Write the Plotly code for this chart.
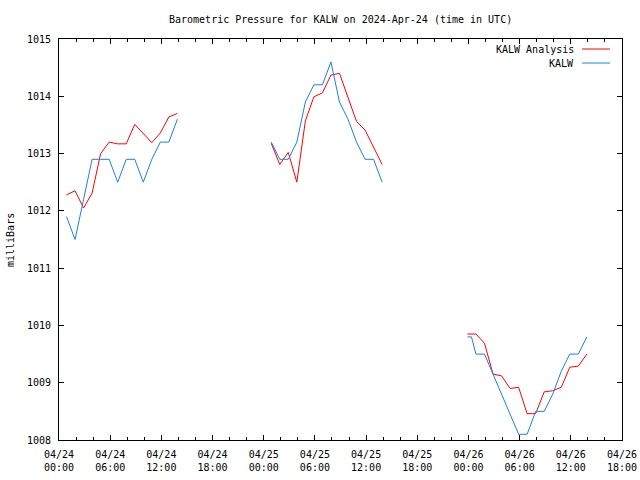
import datetime as dt
import plotly.graph_objects as go

# ---- data (hours after 2024-04-24 00:00 UTC) ----
seg1_hours = [0.88, 1.88, 2.88, 3.88, 4.88, 5.88, 6.88, 7.88, 8.88, 9.88, 10.88, 11.88, 12.88, 13.88]
seg1_obs = [1011.9, 1011.5, 1012.2, 1012.9, 1012.9, 1012.9, 1012.5, 1012.9, 1012.9, 1012.5, 1012.9, 1013.2, 1013.2, 1013.6]
seg1_ana = [1012.28, 1012.35, 1012.05, 1012.31, 1013.0, 1013.2, 1013.17, 1013.17, 1013.51, 1013.35, 1013.19, 1013.36, 1013.64, 1013.7]

seg2_hours = [24.88, 25.88, 26.88, 27.88, 28.88, 29.88, 30.88, 31.88, 32.88, 33.88, 34.88, 35.88, 36.88, 37.88]
seg2_obs = [1013.2, 1012.9, 1012.9, 1013.2, 1013.9, 1014.2, 1014.2, 1014.6, 1013.9, 1013.6, 1013.2, 1012.9, 1012.9, 1012.5]
seg2_ana = [1013.18, 1012.81, 1013.02, 1012.5, 1013.57, 1013.99, 1014.06, 1014.37, 1014.4, 1013.99, 1013.56, 1013.41, 1013.12, 1012.81]

seg3_obs_hours = [47.88, 48.35, 48.88, 49.88, 50.88, 51.88, 52.88, 53.88, 54.88, 55.88, 56.88, 57.88, 58.88, 59.88, 60.88, 61.88]
seg3_obs = [1009.8, 1009.8, 1009.5, 1009.5, 1009.15, 1008.8, 1008.44, 1008.1, 1008.1, 1008.5, 1008.5, 1008.8, 1009.2, 1009.5, 1009.5, 1009.8]
seg3_ana_hours = [47.88, 48.88, 49.88, 50.88, 51.88, 52.88, 53.88, 54.88, 55.88, 56.88, 57.88, 58.88, 59.88, 60.88, 61.88]
seg3_ana = [1009.85, 1009.85, 1009.69, 1009.15, 1009.12, 1008.9, 1008.92, 1008.46, 1008.46, 1008.84, 1008.86, 1008.92, 1009.27, 1009.29, 1009.5]

y_ticks = [1008, 1009, 1010, 1011, 1012, 1013, 1014, 1015]

start = dt.datetime(2024, 4, 24, 0, 0)


def to_time(hours):
    return [start + dt.timedelta(hours=h) for h in hours]


def join(segments):
    xs, ys = [], []
    for hours, vals in segments:
        if xs:
            xs.append(xs[-1] + dt.timedelta(minutes=1))
            ys.append(None)
        xs.extend(to_time(hours))
        ys.extend(vals)
    return xs, ys


ana_x, ana_y = join([(seg1_hours, seg1_ana), (seg2_hours, seg2_ana), (seg3_ana_hours, seg3_ana)])
obs_x, obs_y = join([(seg1_hours, seg1_obs), (seg2_hours, seg2_obs), (seg3_obs_hours, seg3_obs)])

RED = "#ff0000"
BLUE = "#1a80e6"
FONT = "DejaVu Sans Mono"
FS = 10

fig = go.Figure()
fig.add_trace(go.Scatter(x=ana_x, y=ana_y, mode="lines", name="KALW Analysis",
                         line=dict(color=RED, width=1), connectgaps=False))
fig.add_trace(go.Scatter(x=obs_x, y=obs_y, mode="lines", name="KALW",
                         line=dict(color=BLUE, width=1), connectgaps=False))

W, H = 640, 480
L, R, T, B = 59, 18, 39, 40
PW, PH = W - L - R, H - T - B

fig.update_layout(
    width=W, height=H,
    margin=dict(l=L, r=R, t=T, b=B, autoexpand=False),
    paper_bgcolor="white", plot_bgcolor="white",
    font=dict(family=FONT, size=FS, color="black"),
    showlegend=False,
)

fig.update_xaxes(
    type="date",
    range=[start, start + dt.timedelta(hours=66)],
    tickmode="linear", tick0=start, dtick=6 * 3600 * 1000,
    tickformat="%m/%d<br>%H:%M",
    ticks="inside", ticklen=5, tickcolor="black",
    minor=dict(dtick=2 * 3600 * 1000, ticks="inside", ticklen=3, tickcolor="black", showgrid=False),
    showline=True, linecolor="black", linewidth=1, mirror="ticks",
    showgrid=False, zeroline=False, automargin=False,
    ticklabelstandoff=5,
    tickfont=dict(family=FONT, size=FS),
)
fig.update_yaxes(
    range=[1008, 1015],
    tickmode="array", tickvals=y_ticks, ticktext=[str(v) for v in y_ticks],
    ticks="inside", ticklen=5, tickcolor="black",
    showline=True, linecolor="black", linewidth=1, mirror="ticks",
    showgrid=False, zeroline=False, automargin=False,
    ticklabelstandoff=5,
    tickfont=dict(family=FONT, size=FS),
)

# title
fig.add_annotation(text="Barometric Pressure for KALW on 2024-Apr-24 (time in UTC)",
                   xref="paper", yref="paper", x=0.5, y=1, yshift=T - 19,
                   xanchor="center", yanchor="middle", showarrow=False,
                   font=dict(family=FONT, size=FS))
# y-axis label
fig.add_annotation(text="milliBars", xref="paper", yref="paper",
                   x=0, xshift=10 - L, y=(H - B - 240) / PH,
                   xanchor="center", yanchor="middle", textangle=-90, showarrow=False,
                   font=dict(family=FONT, size=FS))

# gnuplot-style key: text right-aligned, sample line to the right
key_items = [("KALW Analysis", RED, 49), ("KALW", BLUE, 63)]
for label, color, ypx in key_items:
    yp = (H - B - ypx) / PH
    fig.add_annotation(text=label, xref="paper", yref="paper",
                       x=(576 - L) / PW, y=yp,
                       xanchor="right", yanchor="middle", showarrow=False,
                       font=dict(family=FONT, size=FS, color="black"))
    fig.add_shape(type="line", xref="paper", yref="paper",
                  x0=(582 - L) / PW, x1=(610 - L) / PW, y0=yp, y1=yp,
                  line=dict(color=color, width=1))

fig.write_html("out.html", config={"displayModeBar": False},
               post_script="document.body.style.margin='0';document.body.style.overflow='hidden';")
